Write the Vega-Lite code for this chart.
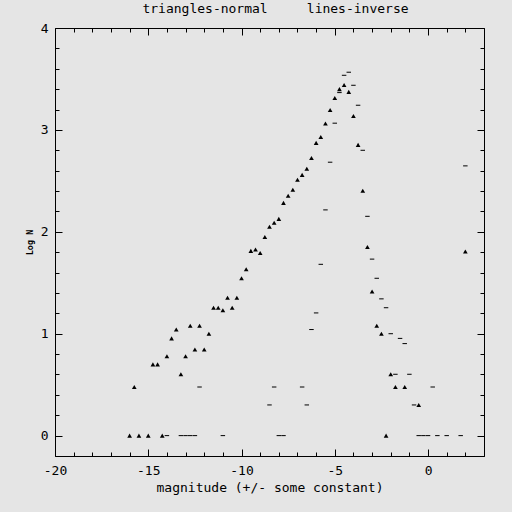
{
 "$schema": "https://vega.github.io/schema/vega-lite/v6.json",
 "width": 429,
 "height": 428,
 "autosize": {"type": "none"},
 "padding": {"left": 55, "top": 28, "right": 28, "bottom": 56},
 "background": "#e5e5e5",
 "config": {
  "view": {"stroke": "black", "strokeWidth": 1, "fill": "#e5e5e5"},
  "font": "DejaVu Sans Mono",
  "axis": {"domain": false, "grid": false, "tickColor": "black", "labelColor": "black", "titleColor": "black", "labelFont": "DejaVu Sans Mono", "titleFont": "DejaVu Sans Mono", "labelFontSize": 13, "titleFontSize": 13, "titleFontWeight": "normal", "labelOverlap": false, "labelFlush": false}
 },
 "title": {"text": "triangles-normal\u00a0\u00a0\u00a0\u00a0\u00a0lines-inverse", "font": "DejaVu Sans Mono", "fontSize": 13, "fontWeight": "normal", "color": "black", "anchor": "middle", "dx": 6, "offset": 6},
 "datasets": {
  "normal": [
   {"x": -16, "y": 0}, {"x": -15.75, "y": 0.477}, {"x": -15.5, "y": 0}, {"x": -15, "y": 0},
   {"x": -14.75, "y": 0.699}, {"x": -14.5, "y": 0.699}, {"x": -14.25, "y": 0}, {"x": -14, "y": 0.778},
   {"x": -13.75, "y": 0.954}, {"x": -13.5, "y": 1.041}, {"x": -13.25, "y": 0.602}, {"x": -13, "y": 0.778},
   {"x": -12.75, "y": 1.079}, {"x": -12.5, "y": 0.845}, {"x": -12.25, "y": 1.079}, {"x": -12, "y": 0.845},
   {"x": -11.75, "y": 1.0}, {"x": -11.5, "y": 1.255}, {"x": -11.25, "y": 1.255}, {"x": -11, "y": 1.23},
   {"x": -10.75, "y": 1.352}, {"x": -10.5, "y": 1.255}, {"x": -10.25, "y": 1.352}, {"x": -10, "y": 1.544},
   {"x": -9.75, "y": 1.633}, {"x": -9.5, "y": 1.813}, {"x": -9.25, "y": 1.826}, {"x": -9, "y": 1.792},
   {"x": -8.75, "y": 1.949}, {"x": -8.5, "y": 2.049}, {"x": -8.25, "y": 2.088}, {"x": -8, "y": 2.127},
   {"x": -7.75, "y": 2.284}, {"x": -7.5, "y": 2.353}, {"x": -7.25, "y": 2.412}, {"x": -7, "y": 2.51},
   {"x": -6.75, "y": 2.559}, {"x": -6.5, "y": 2.618}, {"x": -6.25, "y": 2.725}, {"x": -6, "y": 2.873},
   {"x": -5.75, "y": 2.931}, {"x": -5.5, "y": 3.062}, {"x": -5.25, "y": 3.196}, {"x": -5, "y": 3.314},
   {"x": -4.75, "y": 3.4}, {"x": -4.5, "y": 3.441}, {"x": -4.25, "y": 3.373}, {"x": -4, "y": 3.137},
   {"x": -3.75, "y": 2.853}, {"x": -3.5, "y": 2.402}, {"x": -3.25, "y": 1.851}, {"x": -3, "y": 1.415},
   {"x": -2.75, "y": 1.079}, {"x": -2.5, "y": 1.0}, {"x": -2.25, "y": 0}, {"x": -2, "y": 0.602},
   {"x": -1.75, "y": 0.477}, {"x": -1.25, "y": 0.477}, {"x": -0.5, "y": 0.301}, {"x": 2, "y": 1.806}
  ],
  "inverse": [
   {"x": -14, "y": 0}, {"x": -13.25, "y": 0}, {"x": -13, "y": 0}, {"x": -12.75, "y": 0},
   {"x": -12.5, "y": 0}, {"x": -12.25, "y": 0.477}, {"x": -11, "y": 0}, {"x": -8.5, "y": 0.301},
   {"x": -8.25, "y": 0.477}, {"x": -8, "y": 0}, {"x": -7.75, "y": 0}, {"x": -6.75, "y": 0.477},
   {"x": -6.5, "y": 0.301}, {"x": -6.25, "y": 1.041}, {"x": -6, "y": 1.204}, {"x": -5.75, "y": 1.681},
   {"x": -5.5, "y": 2.215}, {"x": -5.25, "y": 2.683}, {"x": -5, "y": 3.066}, {"x": -4.75, "y": 3.366},
   {"x": -4.5, "y": 3.536}, {"x": -4.25, "y": 3.566}, {"x": -4, "y": 3.438}, {"x": -3.75, "y": 3.242},
   {"x": -3.5, "y": 2.8}, {"x": -3.25, "y": 2.152}, {"x": -3, "y": 1.732}, {"x": -2.75, "y": 1.544},
   {"x": -2.5, "y": 1.342}, {"x": -2.25, "y": 1.255}, {"x": -2, "y": 1.0}, {"x": -1.75, "y": 0.602},
   {"x": -1.5, "y": 0.954}, {"x": -1.25, "y": 0.903}, {"x": -1, "y": 0.602}, {"x": -0.75, "y": 0.301},
   {"x": -0.5, "y": 0}, {"x": -0.25, "y": 0}, {"x": 0, "y": 0}, {"x": 0.25, "y": 0.477},
   {"x": 0.5, "y": 0}, {"x": 1, "y": 0}, {"x": 1.75, "y": 0}, {"x": 2, "y": 2.647}
  ]
 },
 "layer": [
  {
   "data": {"name": "normal"},
   "mark": {"type": "point", "shape": "triangle-up", "filled": true, "color": "black", "opacity": 1, "size": 22},
   "encoding": {
    "x": {"field": "x", "type": "quantitative",
     "scale": {"domain": [-20, 3], "nice": false, "zero": false},
     "axis": {"orient": "bottom", "title": "magnitude (+/- some constant)",
      "values": [-20,-19,-18,-17,-16,-15,-14,-13,-12,-11,-10,-9,-8,-7,-6,-5,-4,-3,-2,-1,0,1,2,3],
      "tickSize": {"condition": {"test": "datum.value % 5 === 0", "value": -7}, "value": -4},
      "labelExpr": "datum.value % 5 === 0 ? '' + datum.value : ''",
      "labelPadding": 15, "titlePadding": 1}},
    "y": {"field": "y", "type": "quantitative",
     "scale": {"domain": [-0.2, 4], "nice": false, "zero": false},
     "axis": {"orient": "left", "title": "Log N", "titleFontSize": 8.5, "titleFontWeight": "bold",
      "values": [-0.2,0,0.2,0.4,0.6,0.8,1,1.2,1.4,1.6,1.8,2,2.2,2.4,2.6,2.8,3,3.2,3.4,3.6,3.8,4],
      "tickSize": {"condition": {"test": "abs(datum.value - round(datum.value)) < 0.01", "value": -7}, "value": -4},
      "labelExpr": "abs(datum.value - round(datum.value)) < 0.01 ? '' + round(datum.value) : ''",
      "labelPadding": 14, "titlePadding": 6}}
   }
  },
  {
   "data": {"name": "inverse"},
   "mark": {"type": "point", "shape": "stroke", "filled": false, "stroke": "black", "strokeWidth": 1, "opacity": 1, "size": 20},
   "encoding": {
    "x": {"field": "x", "type": "quantitative",
     "scale": {"domain": [-20, 3], "nice": false, "zero": false},
     "axis": {"orient": "top", "title": null, "labels": false,
      "values": [-20,-19,-18,-17,-16,-15,-14,-13,-12,-11,-10,-9,-8,-7,-6,-5,-4,-3,-2,-1,0,1,2,3],
      "tickSize": {"condition": {"test": "datum.value % 5 === 0", "value": -7}, "value": -4}}},
    "y": {"field": "y", "type": "quantitative",
     "scale": {"domain": [-0.2, 4], "nice": false, "zero": false},
     "axis": {"orient": "right", "title": null, "labels": false,
      "values": [-0.2,0,0.2,0.4,0.6,0.8,1,1.2,1.4,1.6,1.8,2,2.2,2.4,2.6,2.8,3,3.2,3.4,3.6,3.8,4],
      "tickSize": {"condition": {"test": "abs(datum.value - round(datum.value)) < 0.01", "value": -7}, "value": -4}}}
   }
  }
 ],
 "resolve": {"axis": {"x": "independent", "y": "independent"}}
}
